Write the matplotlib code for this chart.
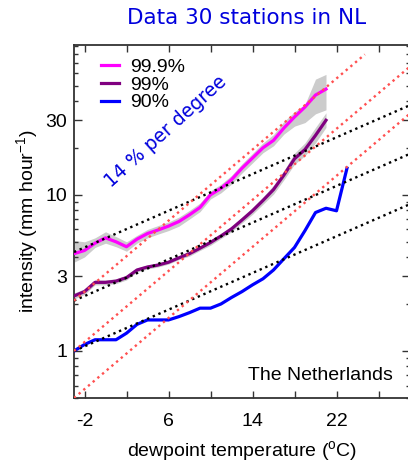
import numpy as np
import matplotlib
matplotlib.use("Agg")
import matplotlib.pyplot as plt
from matplotlib.ticker import FixedLocator, LogLocator, NullFormatter

# Datos
temp_alta = list(range(-3, 22))
p999 = [4.2, 4.4, 4.9, 5.3, 5.0, 4.65, 5.2, 5.65, 5.95, 6.3, 6.75, 7.45, 8.3, 10.0,
        11.0, 12.5, 14.8, 17.2, 20.0, 22.3, 26.8, 31.5, 36.5, 43.5, 47.5]
p999_sup = [5.1, 5.0, 5.3, 5.8, 5.4, 5.0, 5.5, 6.0, 6.35, 6.7, 7.2, 7.95, 8.85, 10.6,
            11.7, 13.3, 15.8, 18.4, 21.5, 24.3, 29.5, 34.0, 38.0, 55.0, 59.0]
p999_inf = [3.7, 4.0, 4.6, 4.9, 4.65, 4.35, 4.9, 5.3, 5.6, 5.9, 6.3, 7.0, 7.8, 9.4,
            10.3, 11.7, 13.8, 16.0, 18.6, 20.6, 24.5, 27.5, 29.0, 33.0, 35.0]

p99 = [2.25, 2.4, 2.75, 2.75, 2.8, 2.95, 3.3, 3.45, 3.55, 3.7, 3.95, 4.2, 4.55, 4.95,
       5.45, 6.05, 6.9, 7.9, 9.2, 10.8, 13.4, 17.0, 19.5, 24.0, 30.0]
p99_sup = [2.35, 2.5, 2.85, 2.85, 2.9, 3.05, 3.4, 3.55, 3.65, 3.8, 4.05, 4.35, 4.7, 5.15,
           5.65, 6.3, 7.2, 8.3, 9.7, 11.5, 14.3, 18.5, 21.5, 27.0, 33.5]
p99_inf = [2.15, 2.3, 2.65, 2.65, 2.7, 2.85, 3.2, 3.35, 3.45, 3.6, 3.85, 4.05, 4.4, 4.75,
           5.25, 5.8, 6.6, 7.5, 8.7, 10.1, 12.5, 15.7, 17.8, 21.5, 27.0]

temp_90 = list(range(-3, 24))
p90 = [1.0, 1.1, 1.18, 1.18, 1.18, 1.3, 1.48, 1.58, 1.58, 1.58, 1.66, 1.76, 1.88, 1.88,
       2.0, 2.2, 2.4, 2.65, 2.9, 3.3, 3.9, 4.6, 5.9, 7.7, 8.2, 7.9, 14.8]

# Lineas de referencia: inicio en -3 grados
x_inicio = -3
inicio_7 = [4.3, 2.1, 1.0]
fin_7 = [29, 29, 29]
inicio_14 = [2.1, 1.0, 0.5]
fin_14 = [24.7, 29, 29]
tasa_7 = 1.07
tasa_14 = 1.14

plt.rcParams['font.family'] = ['Liberation Sans', 'DejaVu Sans']
plt.rcParams['mathtext.default'] = 'regular'

fig = plt.figure(figsize=(4.08, 4.63), dpi=100)
ax = fig.add_axes([74 / 408, 65 / 463, 336 / 408, 353 / 463])

gris = '#cccccc'
ax.fill_between(temp_alta, p999_inf, p999_sup, color=gris, lw=0, zorder=1)
ax.fill_between(temp_alta, p99_inf, p99_sup, color=gris, lw=0, zorder=1)

ax.plot(temp_alta, p999, color='#ff00ff', lw=2.3, label='99.9%', zorder=3)
ax.plot(temp_alta, p99, color='#800080', lw=2.3, label='99%', zorder=3)
ax.plot(temp_90, p90, color='#0000ff', lw=2.3, label='90%', zorder=3)

punteado = (0, (1, 1.6))
for y0, x1 in zip(inicio_7, fin_7):
    xs = np.array([x_inicio, x1])
    ax.plot(xs, y0 * tasa_7 ** (xs - x_inicio), color='black', lw=1.7,
            linestyle=punteado, zorder=4)
for y0, x1 in zip(inicio_14, fin_14):
    xs = np.array([x_inicio, x1])
    ax.plot(xs, y0 * tasa_14 ** (xs - x_inicio), color='#ff5050', lw=1.7,
            linestyle=punteado, zorder=4)

ax.set_yscale('log')
ax.set_xlim(-3, 29)
ax.set_ylim(0.5, 91)

ax.xaxis.set_major_locator(FixedLocator([-2, 2, 6, 10, 14, 18, 22, 26]))
ax.set_xticklabels(['-2', '', '6', '', '14', '', '22', ''])
ax.yaxis.set_major_locator(FixedLocator([1, 3, 10, 30]))
ax.set_yticklabels(['1', '3', '10', '30'])
ax.yaxis.set_minor_locator(LogLocator(base=10, subs=np.arange(2, 10)))
ax.yaxis.set_minor_formatter(NullFormatter())

ax.tick_params(which='both', direction='in', top=True, right=True,
               labelsize=14, color='#333333', width=1.0)
ax.tick_params(axis='x', which='major', length=5, pad=11)
ax.tick_params(axis='y', which='major', length=6, pad=5)
ax.tick_params(axis='y', which='minor', length=3)
for s in ax.spines.values():
    s.set_linewidth(1.3)
    s.set_color('#333333')

ax.set_xlabel('dewpoint temperature ($^{o}$C)', fontsize=14, labelpad=6)
ax.set_ylabel('intensity (mm hour$^{-1}$)', fontsize=14, labelpad=4)

ax.legend(loc='upper left', frameon=False, fontsize=14, handlelength=0.9,
          handletextpad=0.6, labelspacing=0.0, borderaxespad=0.3,
          bbox_to_anchor=(0.04, 1.0))

ax.text(0.95, 0.04, 'The Netherlands', transform=ax.transAxes, fontsize=14,
        ha='right', va='bottom')
fig.text(166 / 408, 1 - 132 / 463, '14 % per degree', fontsize=13.5,
         family='DejaVu Sans', color='#0000dd', rotation=42,
         ha='center', va='center')
fig.text(247 / 408, 1 - 18 / 463, 'Data 30 stations in NL', fontsize=15.5,
         family='DejaVu Sans', color='#0000dd', ha='center', va='center')

fig.savefig('out.png', dpi=100)
